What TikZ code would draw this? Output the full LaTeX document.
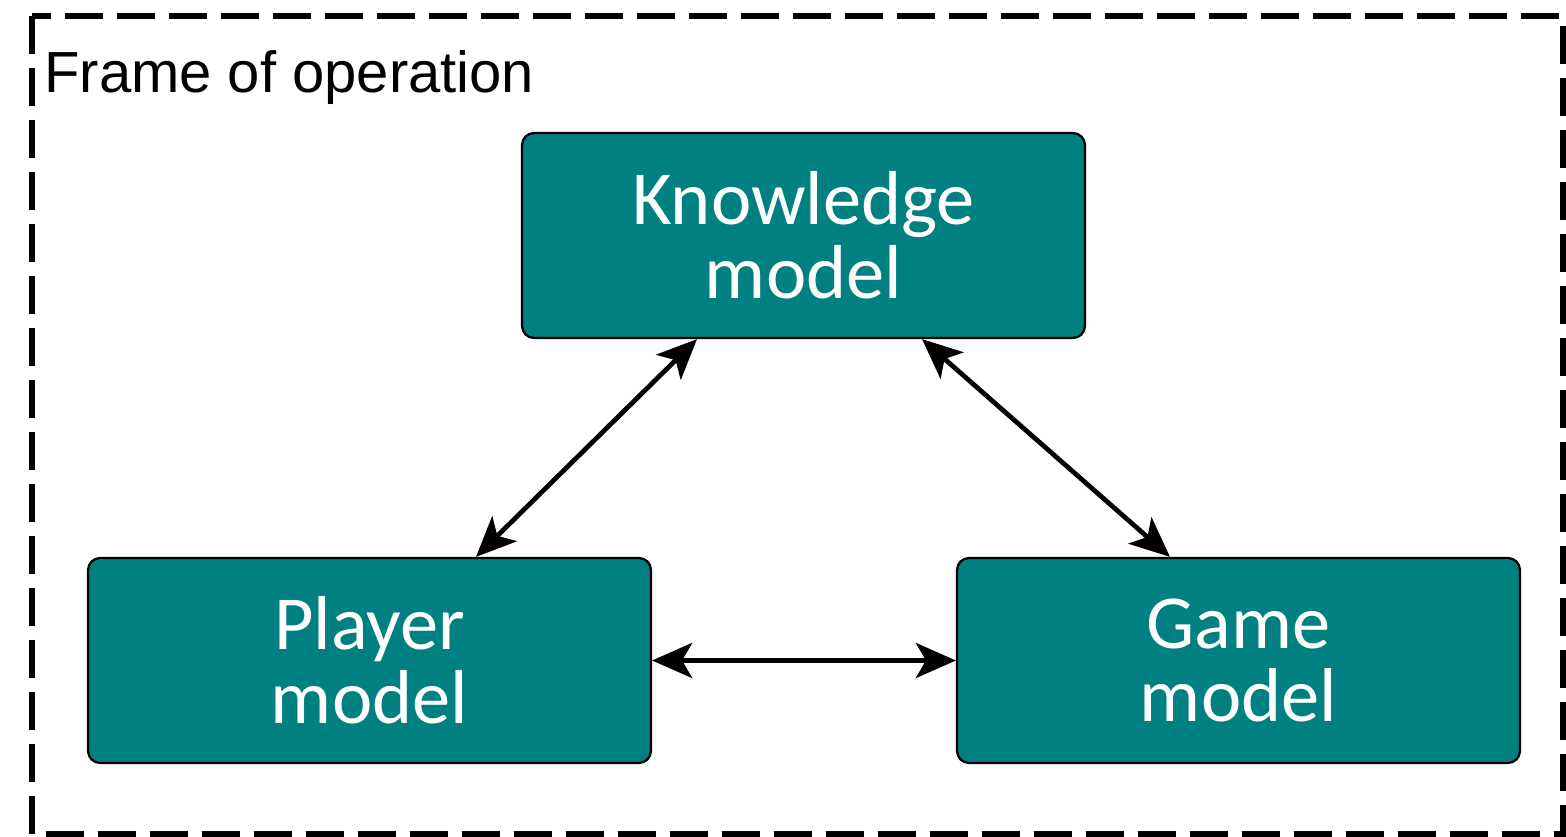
\documentclass[tikz,border=0pt]{standalone}
\usepackage{fontspec}
\setmainfont{Carlito}
\newfontfamily\titlefont{Liberation Sans}
\usetikzlibrary{arrows.meta}
\definecolor{modelteal}{HTML}{008080}
\tikzset{
  model/.style={draw=black, line width=1.3pt, fill=modelteal, rounded corners=0.24cm,
    minimum width=11.26cm, minimum height=4.1cm, text=white, align=center,
    font=\fontsize{43.5}{42}\selectfont},
  link/.style={line width=2.7pt, {Stealth[length=0.8cm,width=0.7cm,inset=0.2cm]}-{Stealth[length=0.8cm,width=0.7cm,inset=0.2cm]}}
}
\begin{document}
\begin{tikzpicture}[x=0.02cm,y=-0.02cm]
\useasboundingbox (0,0) rectangle (1566,837);
\draw[line width=3.4pt, dash pattern=on 0.76cm off 0.28cm] (32,16) rectangle (1563,834);
\node[anchor=base west, inner sep=0pt, font=\titlefont\fontsize{33}{40}\selectfont] (frame) at (44,93) {Frame of operation};

\node[model] (knowledge) at (803.5,235.5) {Knowledge\\model};
\node[model] (player) at (369.5,660.5) {Player\\model};
\node[model] (game) at (1238.5,660.5) {Game\\model};

\draw[link] (knowledge.south -| 697,0) -- (player.north -| 476,0);
\draw[link] (knowledge.south -| 922,0) -- (game.north -| 1170,0);
\draw[link] (player) -- (game);
\end{tikzpicture}
\end{document}
